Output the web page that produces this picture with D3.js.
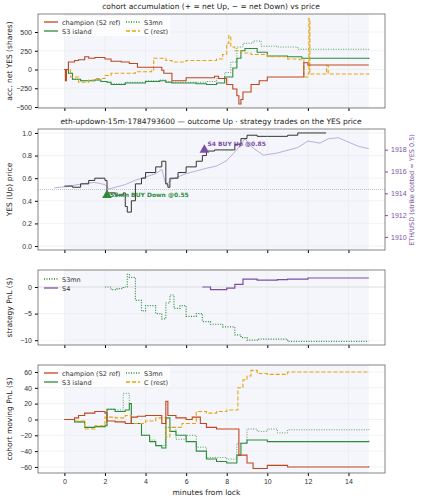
<!DOCTYPE html>
<html>
<head>
<meta charset="utf-8">
<script src="https://cdn.jsdelivr.net/npm/d3@7"></script>
<style>
  body { margin:0; background:#fff; }
  svg { font-family: "DejaVu Sans", sans-serif; }
  .tick text { font-size:7px; fill:#333; }
  .lab { font-size:7.5px; fill:#222; }
</style>
</head>
<body>
<svg width="421" height="500"></svg>
<script>
// ---- data (minutes from lock, value) ----
const accChampion = [[0,0],[0.05,-150],[0.1,0],[0.2,100],[0.5,120],[0.7,130],[1.0,170],[1.2,150],[1.5,160],[2.0,140],[2.3,110],[2.8,100],[3.2,80],[3.6,30],[4.3,30],[4.8,-10],[4.9,-50],[5.3,-150],[6.0,-110],[7.0,-110],[7.4,-90],[7.6,-120],[8.0,-200],[8.3,-260],[8.5,-350],[8.6,-460],[8.7,-400],[8.8,-300],[9.2,-200],[9.6,-150],[10.0,-100],[11.7,-100],[11.8,90],[12.0,60],[15,60]];
const accS3island = [[0,0],[0.2,-50],[0.4,-130],[0.8,-150],[1.5,-140],[1.8,-160],[2.1,-170],[2.3,-200],[3.0,-180],[4.0,-160],[4.7,-150],[5.0,-170],[5.3,-180],[6.5,-190],[7.0,-200],[7.5,-180],[7.9,-100],[8.3,20],[8.5,150],[8.7,250],[8.9,280],[9.5,230],[10.0,180],[11.0,170],[11.7,150],[15,140]];
const accS3mn = [[0,0],[0.2,-50],[0.4,-130],[0.8,-150],[1.5,-140],[1.8,-160],[2.1,-170],[2.3,-190],[3.0,-170],[4.0,-150],[4.7,-140],[5.0,-160],[5.3,-170],[6.5,-170],[7.0,-160],[7.5,-120],[7.9,-40],[8.2,100],[8.5,300],[8.8,350],[9.3,380],[9.7,310],[10.5,300],[11.5,270],[15,260]];
const accC = [[0,0],[0.3,-100],[0.7,-170],[1.2,-140],[1.5,-120],[2.0,-80],[2.3,-50],[3.5,-30],[4.3,-10],[4.4,150],[5.0,120],[5.3,100],[5.9,110],[6.0,120],[7.0,120],[7.5,140],[7.8,200],[8.0,350],[8.1,450],[8.2,300],[8.4,250],[8.7,220],[9.2,200],[10.0,170],[11.0,140],[11.6,130],[11.8,-100],[12.0,-60],[12.05,680],[12.1,-60],[12.9,-60],[12.92,50],[13.0,-60],[15,-70]];

const yesPrice = [[0,0.53],[0.4,0.52],[0.8,0.55],[1.2,0.58],[1.5,0.6],[2.0,0.58],[2.1,0.47],[2.5,0.45],[2.9,0.47],[3.0,0.35],[3.1,0.3],[3.3,0.4],[3.5,0.55],[3.8,0.6],[4.0,0.65],[4.5,0.7],[4.8,0.75],[5.0,0.55],[5.1,0.52],[5.2,0.6],[5.6,0.65],[6.0,0.7],[6.5,0.75],[6.8,0.8],[7.0,0.84],[7.4,0.85],[8.4,0.9],[8.7,0.95],[9.0,0.98],[9.5,0.97],[10.0,0.97],[11.0,0.98],[11.5,1.0],[12.9,1.0]];
const ethPrice = [[-0.5,1914.5],[0,1914.6],[1,1914.9],[1.5,1915.0],[2.0,1914.8],[2.2,1914.4],[3.0,1914.8],[3.5,1915.2],[4.0,1915.5],[4.5,1915.8],[4.8,1916.2],[5.0,1914.8],[5.3,1915.3],[6.0,1915.8],[7.0,1916.3],[7.5,1916.5],[8.0,1917.0],[8.5,1918.0],[8.9,1919.0],[9.2,1918.3],[9.8,1917.5],[10.5,1917.7],[11.5,1918.2],[12.0,1918.8],[12.6,1918.6],[13.0,1919.0],[13.5,1919.1],[14.0,1918.7],[14.5,1918.3],[15,1918.1]];
const trades = [{x:2.1, y:0.45, label:"S3mn BUY Down @0.55", color:"#2e8b3a"},{x:6.9, y:0.85, label:"S4 BUY Up @0.85", color:"#7b4fa5"}];

const pnlS3mn = [[2.0,0],[2.3,-0.5],[2.6,-0.3],[2.9,0],[3.1,2.4],[3.2,1.8],[3.5,-2.5],[3.8,-4.5],[4.0,-3.5],[4.5,-5],[4.8,-6],[5.0,-3],[5.2,-1.5],[5.4,-4],[5.7,-3.5],[6.0,-5.5],[6.5,-5],[6.8,-6.5],[7.2,-7],[7.8,-7.5],[8.2,-7.5],[8.4,-9],[8.7,-9.5],[9.0,-10],[9.5,-9.8],[10.5,-9.8],[11.0,-10.2],[15,-10.2]];
const pnlS4 = [[6.8,0],[7.2,-0.5],[8.0,-0.2],[8.3,-0.2],[8.4,0.5],[8.8,1.5],[9.0,1.5],[9.5,1.3],[10.5,1.4],[11.0,1.5],[12.0,1.7],[15,1.7]];

const movChampion = [[0,0],[0.5,2],[0.7,5],[1.0,8],[1.5,10],[2.0,8],[2.1,-2],[2.5,-3],[3.0,-5],[3.3,3],[3.6,4],[4.0,5],[4.8,-5],[5.0,23],[5.1,5],[5.5,2],[6.0,0],[6.3,3],[6.7,-5],[7.0,-10],[7.5,-12],[8.5,-12],[8.6,-45],[9.0,-55],[9.3,-62],[10.0,-58],[11.0,-60],[15,-59]];
const movS3island = [[0,0],[0.5,-3],[1.0,-10],[1.5,-9],[2.0,-8],[2.1,13],[2.5,10],[3.0,12],[3.2,20],[3.3,-5],[3.8,-20],[4.2,-28],[4.5,-33],[4.8,-36],[5.0,2],[5.2,-15],[5.5,-20],[6.0,-28],[6.5,-40],[7.0,-50],[7.5,-53],[8.0,-55],[8.5,-45],[8.7,-30],[9.0,-26],[10.0,-28],[11.0,-28],[15,-27]];
const movS3mn = [[0,0],[0.5,-3],[1.0,-10],[1.5,-9],[2.0,-8],[2.1,13],[2.5,12],[2.9,33],[3.2,20],[3.3,-5],[3.8,-20],[4.2,-26],[4.5,-33],[5.0,-10],[5.5,-25],[6.0,-20],[6.5,-35],[7.0,-48],[8.0,-50],[8.5,-30],[9.0,-12],[9.5,-15],[10.0,-12],[10.5,-17],[11.0,-13],[15,-12]];
const movC = [[0,0],[0.5,-2],[1.0,-12],[1.5,-8],[2.0,3],[2.5,2],[3.0,5],[3.3,-5],[4.0,-2],[4.5,2],[5.0,-22],[5.2,-10],[5.8,-5],[6.5,10],[7.0,8],[7.5,10],[8.0,12],[8.5,12],[8.55,40],[8.8,50],[9.0,55],[9.2,62],[9.5,58],[10.0,57],[11.0,60],[15,59]];

const xTicks = [0,2,4,6,8,10,12,14];
const C = {red:"#c0461e", green:"#2e8b3a", orange:"#e5a50a", purple:"#7b4fa5", eth:"#b9a3d8", black:"#333"};

const svg = d3.select("svg");
const L = 38, R = 385;
const x = d3.scaleLinear().domain([-1.3, 15.8]).range([L, R]);
const stepLine = (y) => d3.line().x(d => x(d[0])).y(d => y(d[1])).curve(d3.curveStepAfter);

function panel(top, bottom, dom, ticks, fmt, ylabel, showX) {
  const y = d3.scaleLinear().domain(dom).range([bottom, top]);
  const g = svg.append("g");
  g.append("rect").attr("x", L).attr("y", top).attr("width", R - L).attr("height", bottom - top).attr("fill", "#fff");
  g.append("rect").attr("x", x(0)).attr("y", top).attr("width", x(15) - x(0)).attr("height", bottom - top).attr("fill", "#f4f6fb");
  // grid
  g.selectAll(".gx").data(xTicks).join("line").attr("x1", d => x(d)).attr("x2", d => x(d)).attr("y1", top).attr("y2", bottom).attr("stroke", "#e6e6e6").attr("stroke-width", 0.5);
  g.selectAll(".gy").data(ticks).join("line").attr("x1", L).attr("x2", R).attr("y1", d => y(d)).attr("y2", d => y(d)).attr("stroke", "#e6e6e6").attr("stroke-width", 0.5);
  g.append("g").attr("transform", `translate(${L},0)`).call(d3.axisLeft(y).tickValues(ticks).tickFormat(fmt).tickSize(3)).call(a => a.select(".domain").remove());
  const ax = g.append("g").attr("transform", `translate(0,${bottom})`).call(d3.axisBottom(x).tickValues(xTicks).tickSize(3).tickFormat(showX ? d3.format("d") : ""));
  ax.select(".domain").remove();
  g.append("text").attr("class", "lab").attr("transform", `translate(12,${(top + bottom) / 2}) rotate(-90)`).attr("text-anchor", "middle").text(ylabel);
  const frame = () => svg.append("rect").attr("x", L).attr("y", top).attr("width", R - L).attr("height", bottom - top).attr("fill", "none").attr("stroke", "#666").attr("stroke-width", 0.8);
  return {y, g, frame};
}
function draw(g, data, y, color, dash, w) {
  g.append("path").datum(data).attr("d", stepLine(y)).attr("fill", "none").attr("stroke", color).attr("stroke-width", w || 1.1).attr("stroke-dasharray", dash || null);
}
function legend(items, x0, y0, colW, cols) {
  items.forEach((it, i) => {
    const cx = x0 + (i % cols) * colW, cy = y0 + Math.floor(i / cols) * 9;
    svg.append("line").attr("x1", cx).attr("x2", cx + 14).attr("y1", cy).attr("y2", cy).attr("stroke", it.c).attr("stroke-width", 1.3).attr("stroke-dasharray", it.d || null);
    svg.append("text").attr("x", cx + 18).attr("y", cy + 2.5).attr("font-size", 6.5).attr("fill", "#333").text(it.t);
  });
}
const fmtMinus = d => d < 0 ? "\u2212" + Math.abs(d) : d;

// Panel 1
let p = panel(14, 108, [-513, 740], [-500,-250,0,250,500], fmtMinus, "acc. net YES (shares)", false);
draw(p.g, accS3mn, p.y, C.green, "1,1.5", 0.8);
draw(p.g, accS3island, p.y, C.green);
draw(p.g, accC, p.y, C.orange, "4,2");
draw(p.g, accChampion, p.y, C.red);
p.frame();
svg.append("rect").attr("x", 40).attr("y", 16).attr("width", 130).attr("height", 20).attr("fill", "#fff").attr("opacity", 0.8);
legend([{t:"champion (S2 ref)", c:C.red},{t:"S3mn", c:C.green, d:"1,1.5"},{t:"S3 island", c:C.green},{t:"C (rest)", c:C.orange, d:"4,2"}], 44, 22, 82, 2);
svg.append("text").attr("x", 211).attr("y", 9).attr("text-anchor", "middle").attr("font-size", 7.5).attr("fill", "#222").text("cohort accumulation (+ = net Up, \u2212 = net Down) vs price");

// Panel 2
p = panel(129, 250, [-0.035, 1.035], [0,0.2,0.4,0.6,0.8,1.0], d3.format(".1f"), "YES (Up) price", false);
const yEth = d3.scaleLinear().domain([1908.8, 1919.9]).range([250, 129]);
p.g.append("line").attr("x1", L).attr("x2", R).attr("y1", p.y(0.5)).attr("y2", p.y(0.5)).attr("stroke", "#aaa").attr("stroke-width", 0.7).attr("stroke-dasharray", "1,1");
p.g.append("path").datum(ethPrice).attr("d", d3.line().x(d => x(d[0])).y(d => yEth(d[1]))).attr("fill", "none").attr("stroke", C.eth).attr("stroke-width", 0.9);
draw(p.g, yesPrice, p.y, C.black, null, 1);
trades.forEach(t => {
  p.g.append("path").attr("d", d3.symbol(d3.symbolTriangle, 40)()).attr("transform", `translate(${x(t.x)},${p.y(t.y)})`).attr("fill", t.color);
  p.g.append("text").attr("x", x(t.x) + 3).attr("y", p.y(t.y) - (t.x > 5 ? 4 : -2)).attr("font-size", 6).attr("font-weight", "bold").attr("fill", t.color).text(t.label);
});
p.frame();
const ra = svg.append("g").attr("transform", `translate(${R},0)`).call(d3.axisRight(yEth).tickValues([1910,1912,1914,1916,1918]).tickFormat(d3.format("d")).tickSize(3));
ra.select(".domain").remove();
ra.selectAll("text").style("fill", C.purple);
ra.selectAll("line").attr("stroke", C.purple);
svg.append("text").attr("transform", `translate(414,190) rotate(-90)`).attr("text-anchor", "middle").attr("font-size", 6.5).attr("fill", C.purple).text("ETH/USD (strike dotted = YES 0.5)");
svg.append("text").attr("x", 211).attr("y", 124).attr("text-anchor", "middle").attr("font-size", 7.5).attr("fill", "#222").text("eth-updown-15m-1784793600 \u2014 outcome Up \u00b7 strategy trades on the YES price");

// Panel 3
p = panel(270, 345, [-10.9, 3.2], [-10,-5,0], fmtMinus, "strategy PnL ($)", false);
p.g.append("line").attr("x1", L).attr("x2", R).attr("y1", p.y(0)).attr("y2", p.y(0)).attr("stroke", "#ddd").attr("stroke-width", 0.8);
draw(p.g, pnlS3mn, p.y, C.green, "1,1.5", 1.2);
draw(p.g, pnlS4, p.y, C.purple, null, 1.2);
p.frame();
legend([{t:"S3mn", c:C.green, d:"1,1.5"},{t:"S4", c:C.purple}], 44, 279, 0, 1);

// Panel 4
p = panel(365, 473, [-67.6, 68.8], [-60,-40,-20,0,20,40,60], fmtMinus, "cohort moving PnL ($)", true);
draw(p.g, movS3mn, p.y, C.green, "1,1.5", 0.8);
draw(p.g, movS3island, p.y, C.green);
draw(p.g, movC, p.y, C.orange, "4,2");
draw(p.g, movChampion, p.y, C.red);
p.frame();
svg.append("rect").attr("x", 40).attr("y", 367).attr("width", 130).attr("height", 20).attr("fill", "#fff").attr("opacity", 0.8);
legend([{t:"champion (S2 ref)", c:C.red},{t:"S3mn", c:C.green, d:"1,1.5"},{t:"S3 island", c:C.green},{t:"C (rest)", c:C.orange, d:"4,2"}], 44, 373, 82, 2);
svg.append("text").attr("class", "lab").attr("x", x(7)).attr("y", 495).attr("text-anchor", "middle").text("minutes from lock");
</script>
</body>
</html>
